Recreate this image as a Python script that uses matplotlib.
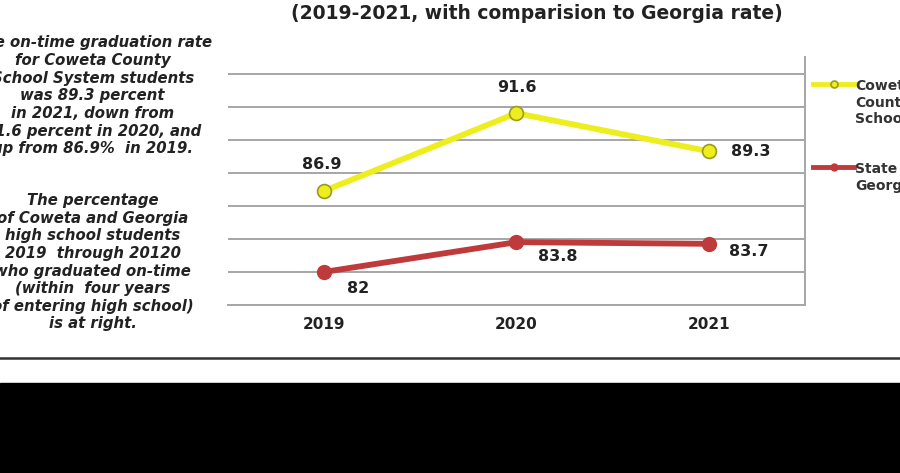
import numpy as np
import matplotlib
matplotlib.use("Agg")
import matplotlib.pyplot as plt
from matplotlib.patches import Rectangle
from matplotlib.lines import Line2D

plt.rcParams['font.family'] = ['DejaVu Sans']

years = ['2019', '2020', '2021']
coweta = [86.9, 91.6, 89.3]
georgia = [82, 83.8, 83.7]
coweta_name = 'Coweta\nCounty\nSchools'
georgia_name = 'State of\nGeorgia'
title = '(2019-2021, with comparision to Georgia rate)'
note1 = ('The on-time graduation rate\nfor Coweta County\nSchool System students\n'
         'was 89.3 percent\nin 2021, down from\n91.6 percent in 2020, and\n'
         'up from 86.9%  in 2019.')
note2 = ('The percentage\nof Coweta and Georgia\nhigh school students\n'
         '2019  through 20120\nwho graduated on-time\n(within  four years\n'
         'of entering high school)\nis at right.')

YELLOW = '#eeee1e'
RED = '#bf3b3b'
GRID = '#a6a6a6'
INK = '#222222'

fig = plt.figure(figsize=(9, 4.73), dpi=100)
ax = fig.add_axes([0.2533, 0.3552, 0.641, 0.5243])

x = np.arange(len(years))
ln1, = ax.plot(x, coweta, color=YELLOW, lw=4.2, marker='o', ms=10,
               mfc=YELLOW, mec='#9a9a20', mew=1.2, label=coweta_name, zorder=3)
ln2, = ax.plot(x, georgia, color=RED, lw=4.2, marker='o', ms=10,
               mfc=RED, mec=RED, label=georgia_name, zorder=3)

ax.set_xlim(-0.5, 2.5)
ax.set_ylim(80, 95)
ax.set_yticks(np.arange(80, 95, 2))
ax.yaxis.grid(True, color=GRID, lw=1.4)
ax.set_axisbelow(True)
ax.tick_params(axis='y', left=False, labelleft=False)
ax.tick_params(axis='x', length=0, pad=9)
ax.set_xticks(x)
ax.set_xticklabels(years, fontsize=11, fontweight='bold', color=INK)
for s in ['top', 'left']:
    ax.spines[s].set_visible(False)
ax.spines['bottom'].set_color(GRID)
ax.spines['bottom'].set_linewidth(1.4)
ax.spines['right'].set_color(GRID)
ax.spines['right'].set_linewidth(1.4)

lab = dict(fontsize=11.5, fontweight='bold', color=INK)
ax.annotate(f'{coweta[0]}', (x[0], coweta[0]), xytext=(-2, 26), textcoords='offset pixels', ha='center', va='center', **lab)
ax.annotate(f'{coweta[1]}', (x[1], coweta[1]), xytext=(0, 26), textcoords='offset pixels', ha='center', va='center', **lab)
ax.annotate(f'{coweta[2]}', (x[2], coweta[2]), xytext=(42, 0), textcoords='offset pixels', ha='center', va='center', **lab)
ax.annotate(f'{georgia[0]:g}', (x[0], georgia[0]), xytext=(34, -17), textcoords='offset pixels', ha='center', va='center', **lab)
ax.annotate(f'{georgia[1]}', (x[1], georgia[1]), xytext=(41, -14), textcoords='offset pixels', ha='center', va='center', **lab)
ax.annotate(f'{georgia[2]}', (x[2], georgia[2]), xytext=(40, -8), textcoords='offset pixels', ha='center', va='center', **lab)

leg = ax.legend(handles=[ln1, ln2], loc='upper left', bbox_to_anchor=(0.903, 0.832),
                bbox_transform=fig.transFigure, frameon=False, borderpad=0,
                borderaxespad=0, labelspacing=2.6, handlelength=3.0,
                handletextpad=0.08, prop={'weight': 'bold', 'size': 10})
# put the key beside the first line of each label
for col in leg._legend_handle_box.get_children():
    for row in col.get_children():
        row.align = 'top'
for h in leg.legend_handles:
    h.set_markersize(5)
    h.set_linewidth(3.5)
for t in leg.get_texts():
    t.set_color('#333333')
    t.set_linespacing(1.22)

fig.text(0.596, 0.972, title, ha='center', va='center', fontsize=13.5,
         fontweight='bold', color=INK)
fig.text(0.103, 0.925, note1, ha='center', va='top', fontsize=10.7,
         fontweight='bold', style='italic', color=INK, linespacing=1.22)
fig.text(0.103, 0.592, note2, ha='center', va='top', fontsize=10.7,
         fontweight='bold', style='italic', color=INK, linespacing=1.22)

fig.add_artist(Line2D([0, 1], [0.243, 0.243], transform=fig.transFigure,
                      color='#333333', lw=1.8))
fig.add_artist(Rectangle((0, 0), 1, 0.19, transform=fig.transFigure,
                         color='black', zorder=5))

fig.savefig('out.png', dpi=100)
